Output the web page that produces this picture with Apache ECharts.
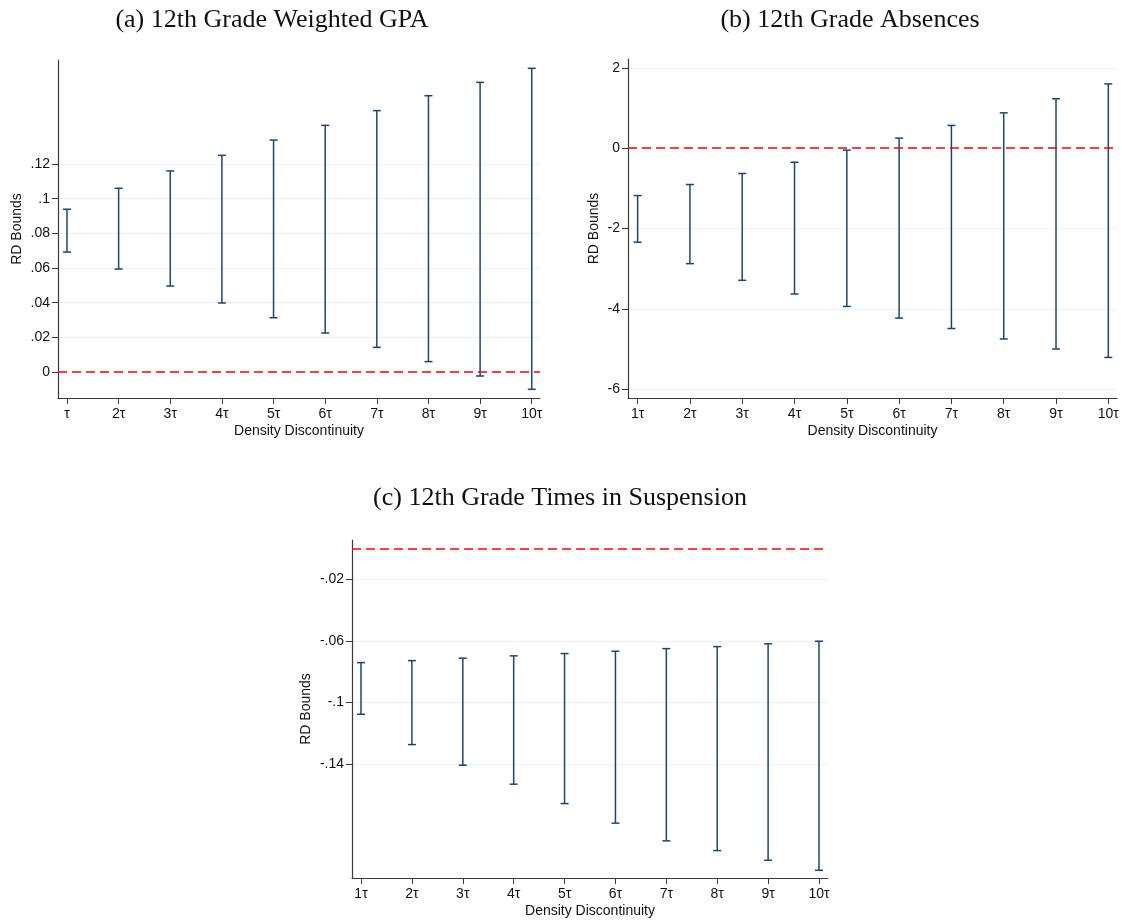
<!DOCTYPE html>
<html>
<head>
<meta charset="utf-8">
<script src="https://cdn.jsdelivr.net/npm/echarts@6/dist/echarts.min.js"></script>
<style>
  html, body { margin: 0; padding: 0; background: #fff; }
  #main { width: 1122px; height: 921px; }
</style>
</head>
<body>
<div id="main"></div>
<script>
// density discontinuity multiples
var steps = [1, 2, 3, 4, 5, 6, 7, 8, 9, 10];
var stepLabelsA = ['τ', '2τ', '3τ', '4τ', '5τ', '6τ', '7τ', '8τ', '9τ', '10τ'];
var stepLabelsBC = ['1τ', '2τ', '3τ', '4τ', '5τ', '6τ', '7τ', '8τ', '9τ', '10τ'];

// (a) weighted GPA bounds
var gpaLow  = [0.0692, 0.0594, 0.0496, 0.0398, 0.0313, 0.0225, 0.0142, 0.0060, -0.0023, -0.0100];
var gpaHigh = [0.0939, 0.1060, 0.1160, 0.1250, 0.1338, 0.1423, 0.1508, 0.1594, 0.1671, 0.1752];
var gpaTicks = [0, 0.02, 0.04, 0.06, 0.08, 0.1, 0.12];
var gpaTickLabels = ['0', '.02', '.04', '.06', '.08', '.1', '.12'];

// (b) absences bounds
var absLow  = [-2.34, -2.875, -3.29, -3.63, -3.94, -4.23, -4.49, -4.75, -5.00, -5.21];
var absHigh = [-1.18, -0.905, -0.63, -0.35, -0.05, 0.25, 0.566, 0.88, 1.23, 1.60];
var absTicks = [-6, -4, -2, 0, 2];
var absTickLabels = ['-6', '-4', '-2', '0', '2'];

// (c) suspension bounds
var susLow  = [-0.1077, -0.1274, -0.1408, -0.1531, -0.1657, -0.1784, -0.1899, -0.1962, -0.2025, -0.2090];
var susHigh = [-0.0742, -0.0729, -0.0713, -0.0698, -0.0683, -0.0668, -0.0651, -0.0638, -0.0620, -0.0603];
var susTicks = [-0.14, -0.1, -0.06, -0.02];
var susTickLabels = ['-.14', '-.1', '-.06', '-.02'];

var barColor = '#1a476f';
var axisColor = '#3a3a3a';
var gridColor = '#eaf2f3';
var sansFont = '"Liberation Sans", Arial, sans-serif';
var serifFont = '"Liberation Serif", "Times New Roman", serif';

function rows(lo, hi) {
  return steps.map(function (s, i) { return [s, lo[i], hi[i]]; });
}

function labelFrom(ticks, labels) {
  return function (v) {
    for (var i = 0; i < ticks.length; i++) {
      if (Math.abs(ticks[i] - v) < 1e-9) return labels[i];
    }
    return '';
  };
}

function xAxisFor(idx, min, max, labels) {
  return {
    type: 'value', gridIndex: idx, min: min, max: max,
    name: 'Density Discontinuity', nameLocation: 'middle', nameGap: 26,
    nameTextStyle: { fontFamily: sansFont, fontSize: 14, color: '#111' },
    axisLine: { onZero: false, lineStyle: { color: axisColor, width: 1.2 } },
    axisTick: { customValues: steps, length: 6, lineStyle: { color: axisColor } },
    axisLabel: { customValues: steps, formatter: labelFrom(steps, labels),
      fontFamily: sansFont, fontSize: 14, color: '#111', margin: 9 },
    splitLine: { show: false }
  };
}

function yAxisFor(idx, min, max, ticks, labels, gap) {
  return {
    type: 'value', gridIndex: idx, min: min, max: max,
    name: 'RD Bounds', nameLocation: 'middle', nameGap: gap, nameRotate: 90,
    nameTextStyle: { fontFamily: sansFont, fontSize: 14, color: '#111' },
    axisLine: { show: true, onZero: false, lineStyle: { color: axisColor, width: 1.2 } },
    axisTick: { show: true, customValues: ticks, length: 6, lineStyle: { color: axisColor } },
    axisLabel: { customValues: ticks, formatter: labelFrom(ticks, labels),
      fontFamily: sansFont, fontSize: 14, color: '#111', margin: 8 },
    splitLine: { show: true, lineStyle: { color: gridColor, width: 1.2 } }
  };
}

function errorBars(idx, data) {
  return {
    type: 'custom', xAxisIndex: idx, yAxisIndex: idx,
    data: data,
    encode: { x: 0, y: [1, 2] },
    renderItem: function (params, api) {
      var x = api.value(0);
      var pLo = api.coord([x, api.value(1)]);
      var pHi = api.coord([x, api.value(2)]);
      var w = 4;
      var st = { stroke: barColor, lineWidth: 1.5 };
      return {
        type: 'group',
        children: [
          { type: 'line', shape: { x1: pLo[0], y1: pLo[1], x2: pHi[0], y2: pHi[1] }, style: st },
          { type: 'line', shape: { x1: pLo[0] - w, y1: pLo[1], x2: pLo[0] + w, y2: pLo[1] }, style: st },
          { type: 'line', shape: { x1: pHi[0] - w, y1: pHi[1], x2: pHi[0] + w, y2: pHi[1] }, style: st }
        ]
      };
    },
    markLine: {
      silent: true, symbol: 'none', label: { show: false },
      lineStyle: { color: '#ff0000', type: [9, 5], width: 1.5 },
      data: [{ yAxis: 0 }]
    },
    z: 3
  };
}

var myChart = echarts.init(document.getElementById('main'));

myChart.setOption({
  backgroundColor: '#fff',
  animation: false,
  title: [
    { text: '(a) 12th Grade Weighted GPA', left: 267, top: 2, textAlign: 'center',
      textStyle: { fontFamily: serifFont, fontSize: 26, fontWeight: 'normal', color: '#111' } },
    { text: '(b) 12th Grade Absences', left: 845, top: 2, textAlign: 'center',
      textStyle: { fontFamily: serifFont, fontSize: 26, fontWeight: 'normal', color: '#111' } },
    { text: '(c) 12th Grade Times in Suspension', left: 555, top: 480, textAlign: 'center',
      textStyle: { fontFamily: serifFont, fontSize: 26, fontWeight: 'normal', color: '#111' } }
  ],
  grid: [
    { left: 58, top: 60, width: 482, height: 338 },
    { left: 628, top: 59, width: 489, height: 339 },
    { left: 352, top: 540, width: 476, height: 338 }
  ],
  xAxis: [
    xAxisFor(0, 0.826, 10.16, stepLabelsA),
    xAxisFor(1, 0.816, 10.166, stepLabelsBC),
    xAxisFor(2, 0.823, 10.177, stepLabelsBC)
  ],
  yAxis: [
    yAxisFor(0, -0.015, 0.18, gpaTicks, gpaTickLabels, 34),
    yAxisFor(1, -6.22, 2.22, absTicks, absTickLabels, 27),
    yAxisFor(2, -0.214, 0.0054, susTicks, susTickLabels, 39)
  ],
  series: [
    errorBars(0, rows(gpaLow, gpaHigh)),
    errorBars(1, rows(absLow, absHigh)),
    errorBars(2, rows(susLow, susHigh))
  ]
});
</script>
</body>
</html>
